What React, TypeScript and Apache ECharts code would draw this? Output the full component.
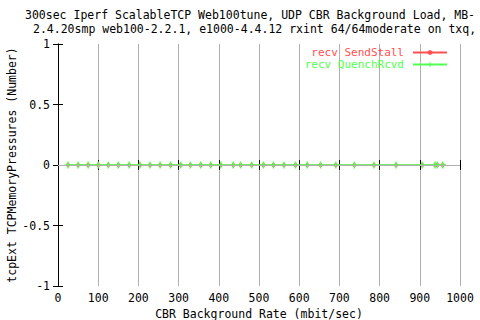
import React, { useEffect, useRef } from "react";
import * as echarts from "echarts";

const titleLine1 = "300sec Iperf ScalableTCP Web100tune, UDP CBR Background Load, MB-";
const titleLine2 = "2.4.20smp web100-2.2.1, e1000-4.4.12 rxint 64/64moderate on txq,";
const xAxisName = "CBR Background Rate (mbit/sec)";
const yAxisName = "tcpExt TCPMemoryPressures (Number)";
const seriesNames = ["recv SendStall", "recv QuenchRcvd"];

const cbrRates = [25, 50, 75, 100, 125, 150, 177, 204, 229, 254, 280, 305, 329, 355, 380, 405, 436, 454, 482, 511, 536, 562, 591, 620, 653, 691, 737, 786, 841, 906, 938, 944, 957];
const sendStall = [0, 0, 0, 0, 0, 0, 0, 0, 0, 0, 0, 0, 0, 0, 0, 0, 0, 0, 0, 0, 0, 0, 0, 0, 0, 0, 0, 0, 0, 0, 0, 0, 0];
const quenchRcvd = [0, 0, 0, 0, 0, 0, 0, 0, 0, 0, 0, 0, 0, 0, 0, 0, 0, 0, 0, 0, 0, 0, 0, 0, 0, 0, 0, 0, 0, 0, 0, 0, 0];

const FONT = "DejaVu Sans Mono";
const RED = "#ff5050";
const GREEN = "#50ff50";
const PLUS = "path://M2,0H3V2H5V3H3V5H2V3H0V2H2Z";

export default function App() {
  const ref = useRef<HTMLDivElement>(null);
  useEffect(() => {
    if (!ref.current) return;
    const chart = echarts.init(ref.current, null, { renderer: "svg" });
    const axisBase = {
      axisLine: { show: true, lineStyle: { color: "#000", width: 1 } },
      axisTick: { show: true, inside: true, length: 5, lineStyle: { color: "#000" } },
    };
    chart.setOption({
      animation: false,
      backgroundColor: "#fff",
      textStyle: { fontFamily: FONT },
      graphic: [
        { type: "text", left: 25, top: 9, style: { text: titleLine1, font: `11.5px "${FONT}"`, fill: "#000" } },
        { type: "text", left: 33, top: 23, style: { text: titleLine2, font: `11.5px "${FONT}"`, fill: "#000" } },
      ],
      legend: {
        orient: "vertical",
        right: 32,
        top: 47,
        itemWidth: 34,
        itemHeight: 6,
        itemGap: 1,
        align: "right",
        data: [
          { name: seriesNames[0], textStyle: { color: RED } },
          { name: seriesNames[1], textStyle: { color: GREEN } },
        ],
        textStyle: { fontFamily: FONT, fontSize: 11, lineHeight: 11, padding: [0, 4, 0, 0] },
        padding: 0,
      },
      grid: { left: 58, right: 20, top: 44, bottom: 34, outerBoundsMode: "none", containLabel: false },
      xAxis: [
        {
          type: "value",
          min: 0,
          max: 1000,
          interval: 100,
          position: "bottom",
          ...axisBase,
          axisLabel: { color: "#000", fontFamily: FONT, fontSize: 11.5, margin: 6, formatter: (v: number) => String(v) },
          splitLine: { show: true, lineStyle: { color: "#b0b0b0", width: 1 } },
          name: xAxisName,
          nameLocation: "middle",
          nameGap: 22,
          nameMoveOverlap: false,
          nameTextStyle: { color: "#000", fontFamily: FONT, fontSize: 11.5 },
        },
        {
          type: "value",
          min: 0,
          max: 1000,
          interval: 100,
          position: "top",
          ...axisBase,
          axisLabel: { show: false },
          splitLine: { show: false },
        },
      ],
      yAxis: [
        {
          type: "value",
          min: -1,
          max: 1,
          interval: 0.5,
          position: "left",
          ...axisBase,
          axisLabel: { color: "#000", fontFamily: FONT, fontSize: 11.5, margin: 8, formatter: (v: number) => String(v) },
          splitLine: { show: false },
          name: yAxisName,
          nameLocation: "middle",
          nameGap: 40,
          nameMoveOverlap: false,
          nameTextStyle: { color: "#000", fontFamily: FONT, fontSize: 11.5 },
        },
        {
          type: "value",
          min: -1,
          max: 1,
          interval: 0.5,
          position: "right",
          ...axisBase,
          axisLabel: { show: false },
          splitLine: { show: false },
        },
      ],
      series: [
        {
          name: seriesNames[0],
          type: "line",
          data: cbrRates.map((x, i) => [x, sendStall[i]]),
          symbol: "circle",
          symbolSize: 4,
          itemStyle: { color: RED },
          lineStyle: { color: RED, width: 1 },
          markLine: {
            silent: true,
            symbol: "none",
            label: { show: false },
            lineStyle: { color: "#b0b0b0", type: "solid", width: 1 },
            data: [{ yAxis: 0 }],
          },
        },
        {
          name: seriesNames[1],
          type: "line",
          data: cbrRates.map((x, i) => [x, quenchRcvd[i]]),
          symbol: PLUS,
          symbolSize: 7,
          itemStyle: { color: GREEN },
          lineStyle: { color: GREEN, width: 1.5 },
        },
      ],
    });
    return () => chart.dispose();
  }, []);
  return <div ref={ref} style={{ width: 480, height: 320, position: "absolute", left: 0, top: 0 }} />;
}
